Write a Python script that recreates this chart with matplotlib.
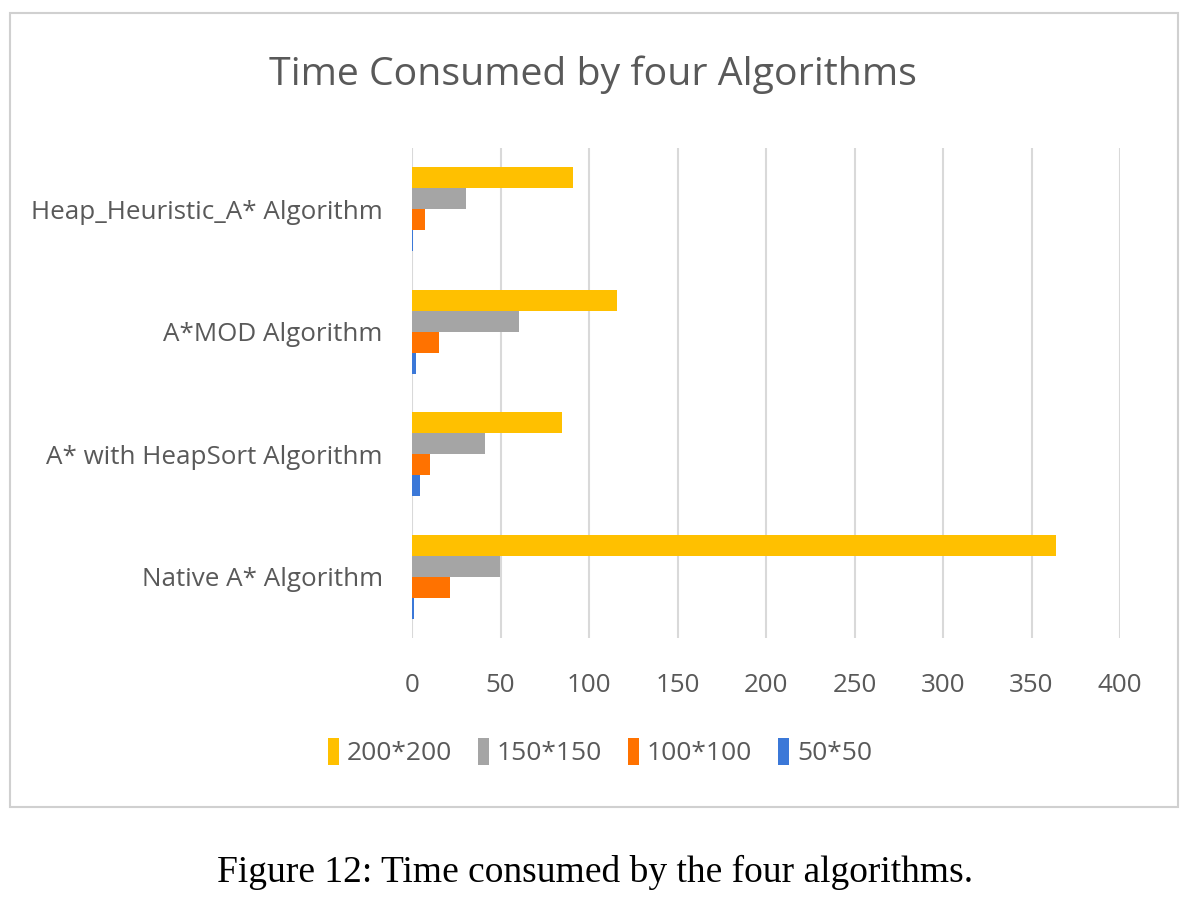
import matplotlib.pyplot as plt
from matplotlib.patches import Rectangle
import numpy as np

# datos
algorithms = ['Native A* Algorithm', 'A* with HeapSort Algorithm',
              'A*MOD Algorithm', 'Heap_Heuristic_A* Algorithm']
sizes = ['200*200', '150*150', '100*100', '50*50']
t_200 = [364, 84.7, 115.6, 91.1]
t_150 = [49.6, 41.5, 60.6, 30.6]
t_100 = [21.3, 10.2, 15.5, 7.4]
t_50 = [1.0, 4.5, 2.3, 0.8]
xticks = [0, 50, 100, 150, 200, 250, 300, 350, 400]

colors = ['#FFC000', '#A5A5A5', '#FF7200', '#3B78D8']
text_color = '#595959'

fig = plt.figure(figsize=(12, 9.02), dpi=100)
W, H = 1200, 902

# marco del area del grafico
fig.patches.append(Rectangle((10 / W, 1 - 807 / H), 1168 / W, 794 / H,
                             transform=fig.transFigure, fill=False,
                             edgecolor='#D0D0D0', linewidth=1.5))

ax = fig.add_axes([412 / W, 1 - 638 / H, 708 / W, 490 / H])

y = np.arange(len(algorithms))
h = 0.172
series = [t_200, t_150, t_100, t_50]
offsets = [1.5, 0.5, -0.5, -1.5]
for vals, off, col, lab in zip(series, offsets, colors, sizes):
    ax.barh(y + off * h, vals, height=h, color=col, label=lab, zorder=3)

ax.set_xlim(0, 400)
ax.set_ylim(-0.5, 3.5)
ax.set_xticks(xticks)
ax.set_yticks(y)
ax.set_yticklabels(algorithms)
ax.grid(axis='x', color='#D9D9D9', linewidth=1.5, zorder=0)
for s in ax.spines.values():
    s.set_visible(False)
ax.tick_params(length=0, labelsize=18.7, labelcolor=text_color)
ax.tick_params(axis='x', pad=25)
ax.tick_params(axis='y', pad=21)
for lbl in ax.get_xticklabels() + ax.get_yticklabels():
    lbl.set_family('Open Sans')

fig.text(0.494, 1 - 75 / H, 'Time Consumed by four Algorithms',
         ha='center', va='center', fontsize=28.3, color=text_color,
         family='Open Sans')

leg = fig.legend(loc='center', bbox_to_anchor=(0.5, 1 - 752 / H), ncol=4,
                 frameon=False, handlelength=0.4, handleheight=1.2,
                 handletextpad=0.3, columnspacing=1.0,
                 prop={'family': 'Open Sans', 'size': 19})
for t in leg.get_texts():
    t.set_color(text_color)

fig.text(0.496, 1 - 872 / H, 'Figure 12: Time consumed by the four algorithms.',
         ha='center', va='center', fontsize=27, color='black',
         family='Liberation Serif')

fig.savefig('out.png', dpi=100)
